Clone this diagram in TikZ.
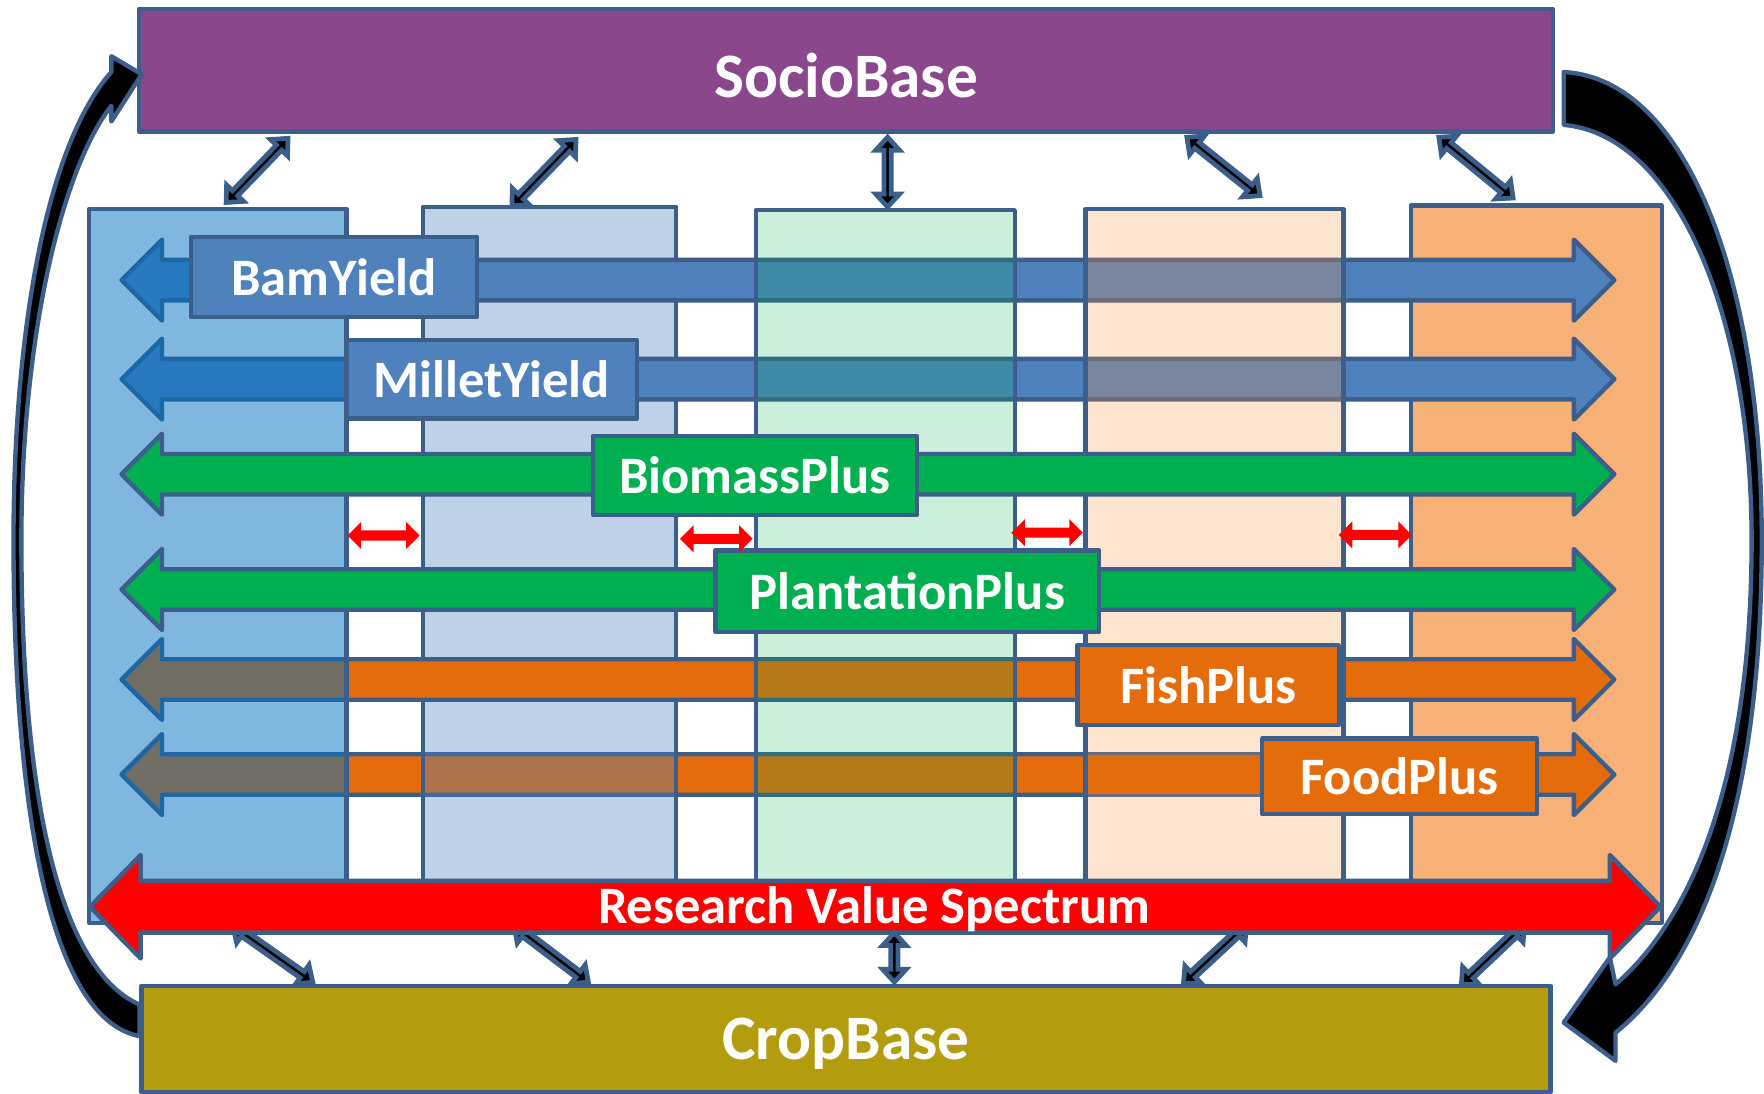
\documentclass[tikz,border=0pt]{standalone}
\usepackage{fontspec}
\setmainfont{Carlito}
\usetikzlibrary{calc}
\definecolor{bdc}{HTML}{3B5E8B}
\definecolor{socio}{HTML}{8B478B}
\definecolor{crop}{HTML}{B39C0E}
\definecolor{cblue}{HTML}{4F81BD}
\definecolor{cgreen}{HTML}{00B050}
\definecolor{corange}{HTML}{E46C0A}
\definecolor{colA}{HTML}{0070C0}
\definecolor{colB}{HTML}{4F81BD}
\definecolor{colC}{HTML}{00B050}
\definecolor{colD}{HTML}{F79646}
\definecolor{colE}{HTML}{F7B177}
\newcommand\rowarrow[2]{%
  \filldraw[bd, fill=#2] (108,#1) -- (144,{#1-36}) -- (144,{#1-18}) -- (1399,{#1-18}) -- (1399,{#1-36}) -- (1435,#1) -- (1399,{#1+36}) -- (1399,{#1+18}) -- (144,{#1+18}) -- (144,{#1+36}) -- cycle;}
\newcommand\redsmall[3]{%
  \fill[red] (#1,#3) -- ({#1+12},{#3-12}) -- ({#1+12},{#3-4.5}) -- ({#2-12},{#3-4.5}) -- ({#2-12},{#3-12}) -- (#2,#3) -- ({#2-12},{#3+12}) -- ({#2-12},{#3+4.5}) -- ({#1+12},{#3+4.5}) -- ({#1+12},{#3+12}) -- cycle;}
\newcommand\conn[2]{%
  \filldraw[connline] (#1) -- ($(#1)!0.115cm!(#2)!0.105cm!90:(#2)$) -- ($(#1)!0.115cm!(#2)!0.033cm!90:(#2)$) -- ($(#2)!0.115cm!(#1)!0.033cm!-90:(#1)$) -- ($(#2)!0.115cm!(#1)!0.105cm!-90:(#1)$) -- (#2) -- ($(#2)!0.115cm!(#1)!0.105cm!90:(#1)$) -- ($(#2)!0.115cm!(#1)!0.033cm!90:(#1)$) -- ($(#1)!0.115cm!(#2)!0.033cm!-90:(#2)$) -- ($(#1)!0.115cm!(#2)!0.105cm!-90:(#2)$) -- cycle;}
\begin{document}
\begin{tikzpicture}[x=0.01cm,y=-0.01cm,
  bd/.style={draw=bdc, line width=1.1pt, line join=round},
  col/.style={bd, rectangle, inner sep=0pt},
  box/.style={bd, rectangle, inner sep=0pt},
  bigtext/.style={text=white, inner sep=0pt, font=\bfseries\fontsize{16}{19}\selectfont},
  lab/.style={bd, rectangle, inner sep=0pt, text=white, font=\bfseries\fontsize{13.3}{16}\selectfont},
  connline/.style={fill=black, draw=bdc, line width=1.2pt, line join=miter}]
\useasboundingbox (0,0) rectangle (1568,972.4);

% columns and row arrows, in their stacking order
\node[col, fill=colE, minimum width=2.23cm, minimum height=6.37cm] (col5) at (1365.5,501.5) {};
\rowarrow{688.5}{corange}
\node[col, fill=colB, fill opacity=0.37, minimum width=2.25cm, minimum height=6.16cm] (col2) at (488.5,492) {};
\rowarrow{249}{cblue}
\rowarrow{337}{cblue}
\rowarrow{604}{corange}
\node[col, fill=colA, fill opacity=0.5, minimum width=2.29cm, minimum height=6.34cm] (col1) at (193.5,503) {};
\node[col, fill=colC, fill opacity=0.2, minimum width=2.30cm, minimum height=6.13cm] (col3) at (787,493.5) {};
\node[col, fill=colD, fill opacity=0.26, minimum width=2.29cm, minimum height=6.14cm] (col4) at (1079.5,493) {};
\fill[corange] (967.5,671.5) rectangle (1124,705.5);
\rowarrow{421.5}{cgreen}
\rowarrow{524}{cgreen}

% labels
\node[lab, fill=cblue, minimum width=2.54cm, minimum height=0.71cm] (bam) at (297,246) {BamYield};
\node[lab, fill=cblue, minimum width=2.58cm, minimum height=0.70cm] (millet) at (437,337) {MilletYield};
\node[lab, fill=cgreen, minimum width=2.88cm, minimum height=0.70cm] (biomass) at (671,422.5) {BiomassPlus};
\node[lab, fill=cgreen, minimum width=3.41cm, minimum height=0.72cm] (plant) at (806.5,525.5) {PlantationPlus};
\node[lab, fill=corange, minimum width=2.32cm, minimum height=0.71cm] (fish) at (1074,609) {FishPlus};
\node[lab, fill=corange, minimum width=2.44cm, minimum height=0.67cm] (food) at (1244,690) {FoodPlus};

% small red double arrows
\redsmall{309}{373}{476}
\redsmall{604.5}{669}{479}
\redsmall{899}{962.5}{473.5}
\redsmall{1190}{1255}{475.5}

% bottom connectors
\coordinate (d1a) at (207,823); \coordinate (d1b) at (278,873);
\coordinate (d2a) at (457,823); \coordinate (d2b) at (523,873);
\coordinate (d3a) at (795,829); \coordinate (d3b) at (795,873);
\coordinate (d4a) at (1108,822); \coordinate (d4b) at (1052,874);
\coordinate (d5a) at (1355,822); \coordinate (d5b) at (1299,875);
\conn{d1a}{d1b}
\conn{d2a}{d2b}
\conn{d4a}{d4b}
\conn{d5a}{d5b}

% research value spectrum arrow
\filldraw[bd, fill=red] (80,806) -- (125,760) -- (125,783) -- (1431,783) -- (1431,760) -- (1476,806) -- (1431,852) -- (1431,829) -- (125,829) -- (125,852) -- cycle;
\node[text=white, font=\bfseries\fontsize{13.3}{16}\selectfont] (rvs) at (777,808) {Research Value Spectrum};
\conn{d3a}{d3b}

% top connectors
\coordinate (c1a) at (256,123); \coordinate (c1b) at (201,180);
\coordinate (c2a) at (512,124); \coordinate (c2b) at (455,183);
\coordinate (c3a) at (789,122); \coordinate (c3b) at (789,184);
\coordinate (c4a) at (1055,122); \coordinate (c4b) at (1120,174);
\coordinate (c5a) at (1279,122); \coordinate (c5b) at (1345,176);
\conn{c1a}{c1b}
\conn{c2a}{c2b}
\conn{c3a}{c3b}
\conn{c4a}{c4b}
\conn{c5a}{c5b}

% bases
\node[box, fill=socio, minimum width=12.56cm, minimum height=1.09cm] (socio) at (752,62.5) {};
\node[bigtext] (sociotext) at (752,67) {SocioBase};
\node[box, fill=crop, minimum width=12.52cm, minimum height=0.945cm] (crop) at (752,923.5) {};
\node[bigtext] (croptext) at (752,928) {CropBase};

% curved arrows
\filldraw[bd, fill=black] (124,921) .. controls (40,905) and (12,700) .. (12,480) .. controls (12,300) and (40,130) .. (99,64) -- (99,50) -- (126,66) -- (99,108) -- (99,94) .. controls (55,150) and (19,300) .. (19,480) .. controls (19,700) and (50,860) .. (124,893) -- cycle;
\filldraw[bd, fill=black] (1390,64) .. controls (1500,70) and (1566,250) .. (1566,480) .. controls (1566,700) and (1520,850) .. (1436,918) -- (1436,943) -- (1390,909) -- (1431,851) -- (1436,875) .. controls (1500,820) and (1557,700) .. (1557,480) .. controls (1557,280) and (1490,120) .. (1390,111) -- cycle;
\end{tikzpicture}
\end{document}
